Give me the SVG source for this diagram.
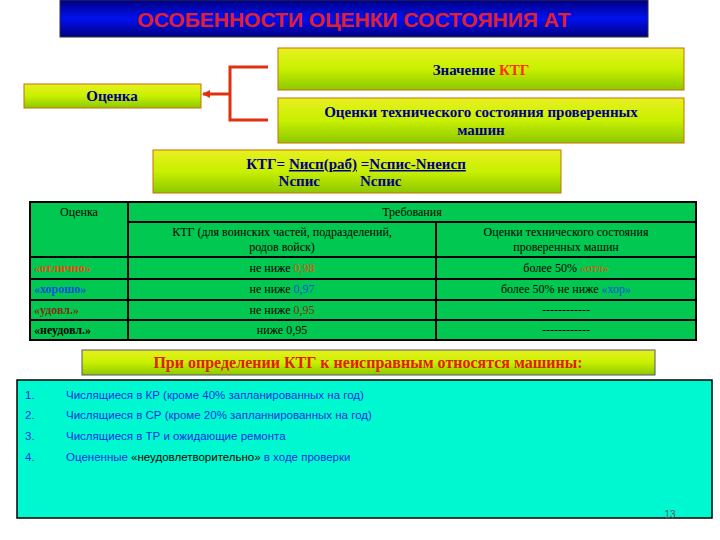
<svg xmlns="http://www.w3.org/2000/svg" width="720" height="540" viewBox="0 0 720 540">
<defs>
<linearGradient id="yg" x1="0" y1="0" x2="0" y2="1"><stop offset="0" stop-color="#e8f020"/><stop offset="0.5" stop-color="#c8f000"/><stop offset="1" stop-color="#8cc800"/></linearGradient>
<linearGradient id="bg" x1="0" y1="0" x2="0" y2="1"><stop offset="0" stop-color="#000080"/><stop offset="0.5" stop-color="#0010f0"/><stop offset="1" stop-color="#000080"/></linearGradient>
<marker id="ar" markerWidth="8" markerHeight="8" refX="7" refY="4" orient="auto" markerUnits="userSpaceOnUse"><path d="M0,0 L8,4 L0,8 Z" fill="#e03010"/></marker>
</defs>
<style>
.yb{fill:url(#yg);stroke:#c87000;stroke-width:1}
.t{font-family:"Liberation Serif",serif;font-weight:bold;fill:#000080;text-anchor:middle}
.c{font-family:"Liberation Serif",serif;font-size:12px;fill:#000;text-anchor:middle}
.s{text-anchor:start;font-weight:bold}
.g{fill:#00c850;stroke:#000;stroke-width:2}
.l{font-family:"Liberation Sans",sans-serif;font-size:11.5px;fill:#1030e0}
</style>
<rect width="720" height="540" fill="#fff"/>
<g id="title"><rect x="60" y="0" width="588" height="37" fill="url(#bg)" stroke="#333"/><text x="354" y="27" font-family="Liberation Sans,sans-serif" font-size="21" font-weight="bold" fill="#e02030" text-anchor="middle">ОСОБЕННОСТИ ОЦЕНКИ СОСТОЯНИЯ АТ</text></g>
<g id="ktg-value"><rect class="yb" x="278" y="48" width="406" height="42"/><text class="t" x="481" y="75" font-size="15">Значение <tspan style="fill:#ff3000">КТГ</tspan></text></g>
<g id="otsenka"><rect class="yb" x="24" y="84" width="177" height="24"/><text class="t" x="112" y="101" font-size="15">Оценка</text></g>
<g id="tech"><rect class="yb" x="278" y="98" width="406" height="45"/><text class="t" x="481" y="117" font-size="15">Оценки технического состояния проверенных</text><text class="t" x="481" y="135" font-size="15">машин</text></g>
<g id="formula"><rect class="yb" x="153" y="150" width="408" height="43"/><text class="t" x="356" y="169" font-size="15">КТГ= <tspan text-decoration="underline">Nисп(раб)</tspan> =<tspan text-decoration="underline">Nспис-Nнеисп</tspan></text><text class="t" x="340" y="186" font-size="15">Nспис<tspan dx="40">Nспис</tspan></text></g>
<g id="connectors" stroke="#e03010" stroke-width="3" fill="none"><path d="M268,67 H230 V120 H268"/><path d="M230,94 H203" marker-end="url(#ar)"/></g>
<g id="table">
<rect class="g" x="30" y="202" width="666" height="138"/>
<g stroke="#000" stroke-width="2"><line x1="128" y1="202" x2="128" y2="340"/><line x1="436" y1="222" x2="436" y2="340"/><line x1="128" y1="222" x2="696" y2="222"/><line x1="30" y1="257" x2="696" y2="257"/><line x1="30" y1="279" x2="696" y2="279"/><line x1="30" y1="300" x2="696" y2="300"/><line x1="30" y1="320" x2="696" y2="320"/></g>
<text class="c" x="79" y="216">Оценка</text><text class="c" x="412" y="216">Требования</text>
<text class="c" x="282" y="236">КТГ (для воинских частей, подразделений,</text><text class="c" x="282" y="251">родов войск)</text>
<text class="c" x="566" y="236">Оценки технического состояния</text><text class="c" x="566" y="251">проверенных машин</text>
<text class="c s" x="34" y="272" style="fill:#e05010">«отлично»</text>
<text class="c" x="282" y="272">не ниже <tspan style="fill:#e05010">0,98</tspan></text>
<text class="c" x="566" y="272">более 50% <tspan style="fill:#e05010">«отл»</tspan></text>
<text class="c s" x="34" y="293" style="fill:#1050e0">«хорошо»</text>
<text class="c" x="282" y="293">не ниже <tspan style="fill:#1050e0">0,97</tspan></text>
<text class="c" x="566" y="293">более 50% не ниже <tspan style="fill:#1050e0">«хор»</tspan></text>
<text class="c s" x="34" y="314" style="fill:#803010">«удовл.»</text>
<text class="c" x="282" y="314">не ниже <tspan style="fill:#803010">0,95</tspan></text>
<text class="c" x="566" y="314">------------</text>
<text class="c s" x="34" y="334">«неудовл.»</text>
<text class="c" x="282" y="334">ниже 0,95</text>
<text class="c" x="566" y="334">------------</text>
</g>
<g id="banner"><rect class="yb" x="82" y="350" width="573" height="25" style="stroke:#556"/><text class="t" x="368" y="368" font-size="16" style="fill:#e02000">При определении КТГ к неисправным относятся машины:</text></g>
<g id="list"><rect x="17" y="380" width="695" height="138" fill="#00f8d0" stroke="#000" stroke-width="1.5"/>
<text class="l" x="25" y="399">1.</text><text class="l" x="66" y="399">Числящиеся в КР (кроме 40% запланированных на год)</text>
<text class="l" x="25" y="419">2.</text><text class="l" x="66" y="419">Числящиеся в СР (кроме 20% запланнированных на год)</text>
<text class="l" x="25" y="440">3.</text><text class="l" x="66" y="440">Числящиеся в ТР и ожидающие ремонта</text>
<text class="l" x="25" y="461">4.</text><text class="l" x="66" y="461">Оцененные <tspan style="fill:#000">«неудовлетворительно»</tspan> в ходе проверки</text>
<text x="670" y="518" font-family="Liberation Sans,sans-serif" font-size="10" fill="#555" text-anchor="middle">13</text></g>
</svg>
